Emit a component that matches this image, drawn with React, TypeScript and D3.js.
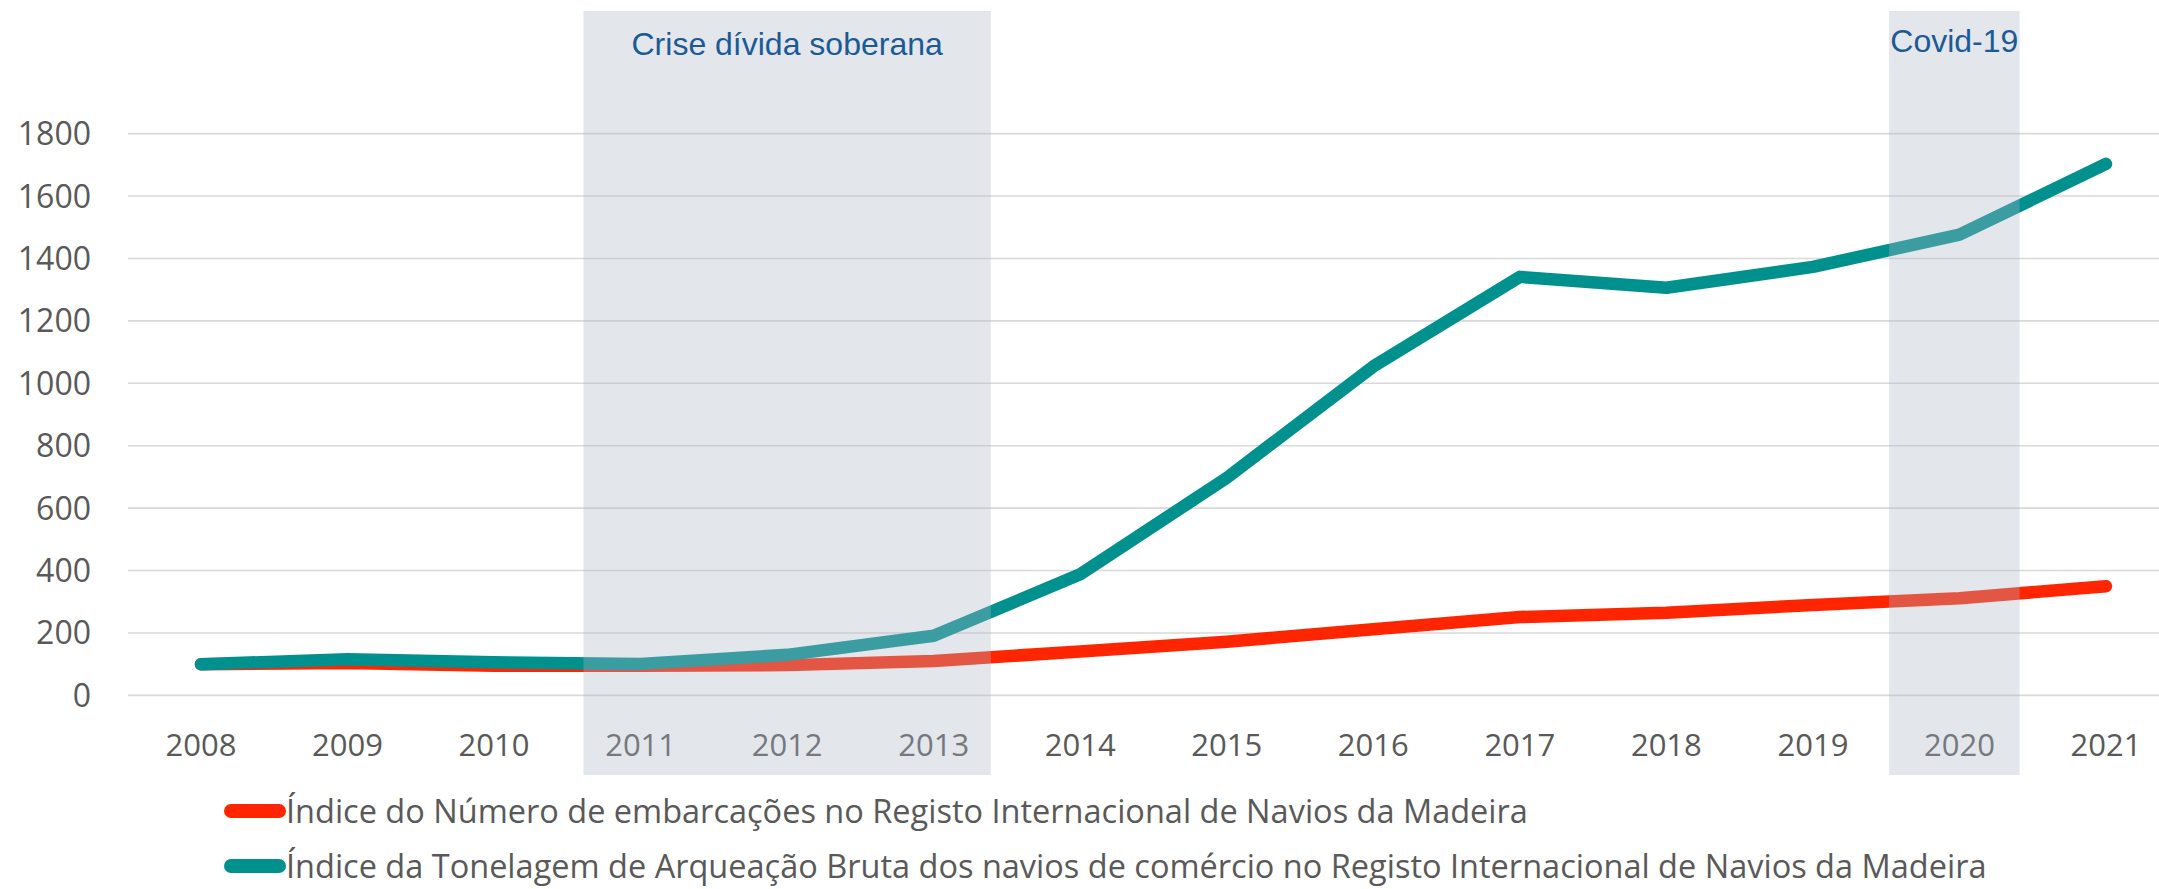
import React from "react";
import * as d3 from "d3";

const years = [2008, 2009, 2010, 2011, 2012, 2013, 2014, 2015, 2016, 2017, 2018, 2019, 2020, 2021];
const embarcacoes = [100, 104, 95, 95, 97, 110, 141, 172, 212, 251, 265, 290, 311, 350];
const tonelagem = [100, 116, 106, 101, 130, 191, 388, 697, 1054, 1341, 1306, 1373, 1476, 1703];
const yTicks = [0, 200, 400, 600, 800, 1000, 1200, 1400, 1600, 1800];
const bands = [
  { label: "Crise dívida soberana", from: 2010.61, to: 2013.39 },
  { label: "Covid-19", from: 2019.52, to: 2020.41 },
];
const seriesNames = [
  "Índice do Número de embarcações no Registo Internacional de Navios da Madeira",
  "Índice da Tonelagem de Arqueação Bruta dos navios de comércio no Registo Internacional de Navios da Madeira",
];
const seriesColors = ["#FF2500", "#00918F"];

export default function App() {
  const W = 2159, H = 889;
  const x = d3.scaleLinear().domain([2008, 2021]).range([201, 2106]);
  const y = d3.scaleLinear().domain([0, 1800]).range([695.4, 133.6]);
  const line = d3
    .line<number>()
    .x((_, i) => x(years[i]))
    .y((v) => y(v));
  const series = [embarcacoes, tonelagem];
  const axisFont = "'Open Sans', sans-serif";
  return (
    <svg width={W} height={H} style={{ position: "absolute", left: 0, top: 0, background: "#fff" }}>
      <rect x={0} y={0} width={W} height={H} fill="#fff" />
      {yTicks.map((t) => (
        <g key={t}>
          <line x1={128} x2={W} y1={y(t)} y2={y(t)} stroke="#D9D9D9" strokeWidth={1.6} />
          <text x={91} y={y(t)} dy="0.36em" textAnchor="end" fontFamily={axisFont} fontSize={32} fill="#595959">
            {t}
          </text>
        </g>
      ))}
      {years.map((yr) => (
        <text key={yr} x={x(yr)} y={756} textAnchor="middle" fontFamily={axisFont} fontSize={31} fill="#595959">
          {yr}
        </text>
      ))}
      {series.map((s, i) => (
        <path
          key={i}
          d={line(s) || ""}
          fill="none"
          stroke={seriesColors[i]}
          strokeWidth={12.5}
          strokeLinecap="round"
          strokeLinejoin="round"
        />
      ))}
      {bands.map((b) => (
        <g key={b.label}>
          <rect
            x={x(b.from)}
            y={11}
            width={x(b.to) - x(b.from)}
            height={764}
            fill="rgb(172,181,196)"
            fillOpacity={0.34}
          />
          <text
            x={(x(b.from) + x(b.to)) / 2}
            y={b.label === "Covid-19" ? 52 : 55}
            textAnchor="middle"
            fontFamily="'Liberation Sans', Arial, sans-serif"
            fontSize={32}
            fill="#1B5A96"
          >
            {b.label}
          </text>
        </g>
      ))}
      {seriesNames.map((n, i) => {
        const cy = i === 0 ? 811 : 866;
        return (
          <g key={n}>
            <line x1={231} x2={279} y1={cy} y2={cy} stroke={seriesColors[i]} strokeWidth={14} strokeLinecap="round" />
            <text x={286} y={cy} dy="0.36em" fontFamily={axisFont} fontSize={32.5} fill="#595959">
              {n}
            </text>
          </g>
        );
      })}
    </svg>
  );
}
